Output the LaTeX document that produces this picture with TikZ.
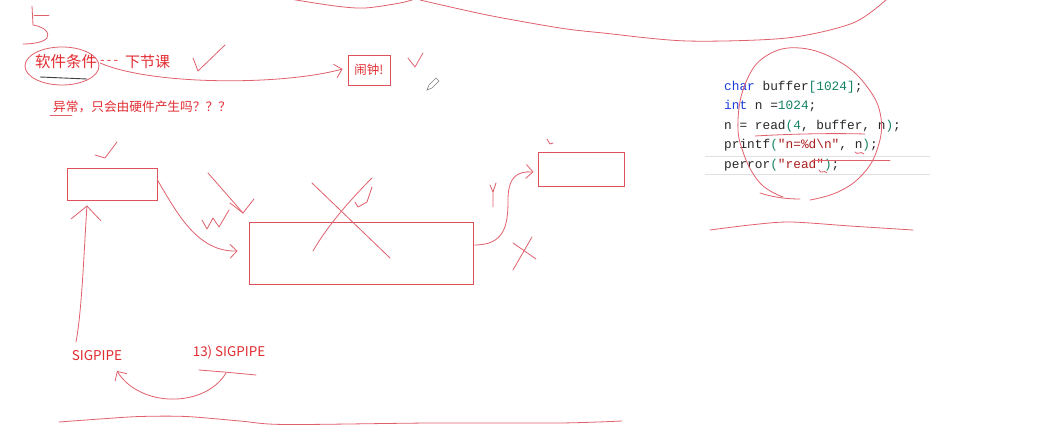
\documentclass[tikz,border=0pt]{standalone}
\usepackage{fontspec}
\setmonofont{Liberation Mono}
\newfontfamily\cjk{Noto Sans CJK SC}
\usetikzlibrary{shapes.geometric,arrows.meta,calc}
\definecolor{ink}{RGB}{224,96,108}
\definecolor{boxred}{RGB}{222,80,90}
\definecolor{txtred}{RGB}{225,45,50}
\definecolor{kw}{RGB}{30,60,220}
\definecolor{num}{RGB}{20,130,100}
\definecolor{str}{RGB}{170,30,30}
\definecolor{codegray}{RGB}{40,40,40}
\definecolor{rulegray}{RGB}{225,225,225}
\begin{document}
\begin{tikzpicture}[x=1pt,y=-1pt,
  pen/.style={draw=ink, line width=0.8pt, line cap=round, line join=round},
  arr/.style={pen, -{Straight Barb[length=7pt,width=14pt]}},
  frame/.style={draw=boxred, line width=0.9pt, inner sep=0pt},
  lbl/.style={text=txtred, inner sep=0pt}]
\fill[white] (0,0) rectangle (1045,438);
\useasboundingbox (0,0) rectangle (1045,438);

% ---------- boxes ----------
\node[frame, minimum width=90pt, minimum height=32pt] (A) at (112,184) {};
\node[frame, minimum width=224pt, minimum height=62pt] (B) at (361,253) {};
\node[frame, minimum width=86pt, minimum height=34pt] (C) at (581,169) {};
\node[frame, minimum width=42pt, minimum height=30pt, text=txtred,
      font=\cjk\fontsize{12.5}{12.5}\selectfont] (alarm) at (369,70) {闹钟!};

% ---------- labels ----------
\node[lbl, font=\cjk\fontsize{15.5}{15.5}\selectfont] (soft) at (66,62) {软件条件};
\draw[pen] (62,66) ellipse [x radius=37, y radius=19];
\draw[black!75, line width=0.9pt] (40,77) -- (87,79);
\node[lbl, anchor=west, font=\cjk\fontsize{13}{13}\selectfont] (dash) at (100,62) {-\,-\,-};
\node[lbl, anchor=west, font=\cjk\fontsize{15}{15}\selectfont] (next) at (125,62) {下节课};
\node[lbl, anchor=west, font=\cjk\fontsize{12.7}{12.7}\selectfont] (q) at (53,107) {异常，只会由硬件产生吗？？？};
\draw[pen] (50,115) -- (72,115);
\node[lbl, font=\cjk\fontsize{13.5}{13.5}\selectfont] (sig1) at (97,356) {SIGPIPE};
\node[lbl, font=\cjk\fontsize{13.4}{13.4}\selectfont] (sig2) at (229,352) {13) SIGPIPE};

% ---------- code ----------
\draw[rulegray, line width=0.8pt] (705,156) -- (930,156);
\draw[rulegray, line width=0.8pt] (705,174) -- (930,174);
\node[anchor=north west, inner sep=0pt, align=left, text=codegray,
      font=\ttfamily\fontsize{12.8}{19.5}\selectfont] (code) at (724,81) {%
\textcolor{kw}{char} buffer\textcolor{num}{[1024]};\\
\textcolor{kw}{int} n =\textcolor{num}{1024};\\
n = read\textcolor{num}{(4}, buffer, n\textcolor{num}{)};\\
printf\textcolor{num}{(}\textcolor{str}{"n=\%d\textbackslash n"}, n\textcolor{num}{)};\\
perror\textcolor{num}{(}\textcolor{str}{"read"}\textcolor{num}{)};};

% ---------- connectors ----------
\draw[arr] ([shift={(3,1)}]soft.east) .. controls (150,85) and (280,86) .. ([shift={(-5,-1)}]alarm.west);
\draw[arr] ([shift={(0,-4)}]A.east) .. controls (178,215) and (198,252) .. ([shift={(-11,-2)}]B.west);
\draw[arr] ([shift={(1,-8)}]B.east) .. controls (505,245) and (508,225) .. (508,200)
      .. controls (508,176) and (518,171) .. ([shift={(-4,3)}]C.west);
\coordinate (s1top) at (76,342);
\draw[pen, -{Straight Barb[length=14pt,width=30pt]}] (s1top) .. controls (82,310) and (84,250) .. ([shift={(-25,5)}]A.south);
\draw[arr] ([shift={(-3,21)}]sig2.center) .. controls (205,408) and (140,408) .. ([shift={(20,15)}]sig1.center);
\draw[pen] (199,370) -- (224,372) -- (256,375);

% ---------- scribbles ----------
\draw[pen] (32,6) -- (33,25) .. controls (45,27) and (50,33) .. (47,38) .. controls (43,43) and (30,44) .. (23,44);
\draw[pen] (34,15) -- (49,15);
\draw[pen] (193,58) -- (198,71) -- (225,45);
\draw[pen] (408,58) -- (415,67) -- (423,53);
\draw[pen] (95,155) -- (105,158) -- (117,142);
\draw[pen] (547,139) -- (550,144) -- (553,143);
\draw[gray, line width=0.6pt] (427,90) -- (429,85) -- (436,78) -- (439,81) -- (432,88) -- cycle;
% W and arrow-like marks
\draw[pen] (208,173) -- (243,213);
\draw[pen] (230,203) -- (243,213) -- (254,199);
\draw[pen] (202,220) -- (207,229) -- (213,218) -- (219,227) -- (229,210);
% big X over middle box
\draw[pen] (312,183) -- (390,258);
\draw[pen] (313,251) .. controls (325,230) and (345,205) .. (372,178);
\draw[pen] (355,202) -- (358,207) -- (367,202) -- (372,187);
% Y and small X
\draw[pen] (493,207) -- (493,192) -- (490,185);
\draw[pen] (493,192) -- (496,183);
\draw[pen] (513,243) -- (536,259);
\draw[pen] (532,237) -- (513,270);
% top curves
\draw[pen] plot[smooth] coordinates {(290,-1) (335,6) (365,8) (400,3) (415,-1)};
\draw[pen] plot[smooth] coordinates {(420,0) (487,15) (560,28) (603,33) (687,41) (787,38) (853,23) (887,-1)};
% bottom line
\draw[pen] plot[smooth] coordinates {(59,422) (100,419) (140,416.5) (186,416.5) (240,421) (285,424.5) (431,423) (560,423) (622,421)};
% circle round the code and marks in it
\draw[pen] plot[smooth, tension=0.7] coordinates {(783,197) (760,183) (743,152) (738,120) (746,82) (766,56) (800,48) (840,62) (868,88) (881,118) (877,150) (862,175) (838,192) (810,200)};
\draw[pen] (760,193) .. controls (775,198) and (790,199) .. (800,199);
\draw[pen] (755,136) .. controls (790,134) and (830,133) .. (865,134);
\draw[pen] (812,160) -- (890,160);
\draw[pen] (855,152) .. controls (858,156) and (860,150) .. (864,154);
\draw[pen] (819,170) .. controls (821,175) and (824,169) .. (827,173);
\draw[pen] plot[smooth] coordinates {(710,230) (750,225) (790,222) (850,226) (913,230)};
\end{tikzpicture}
\end{document}
